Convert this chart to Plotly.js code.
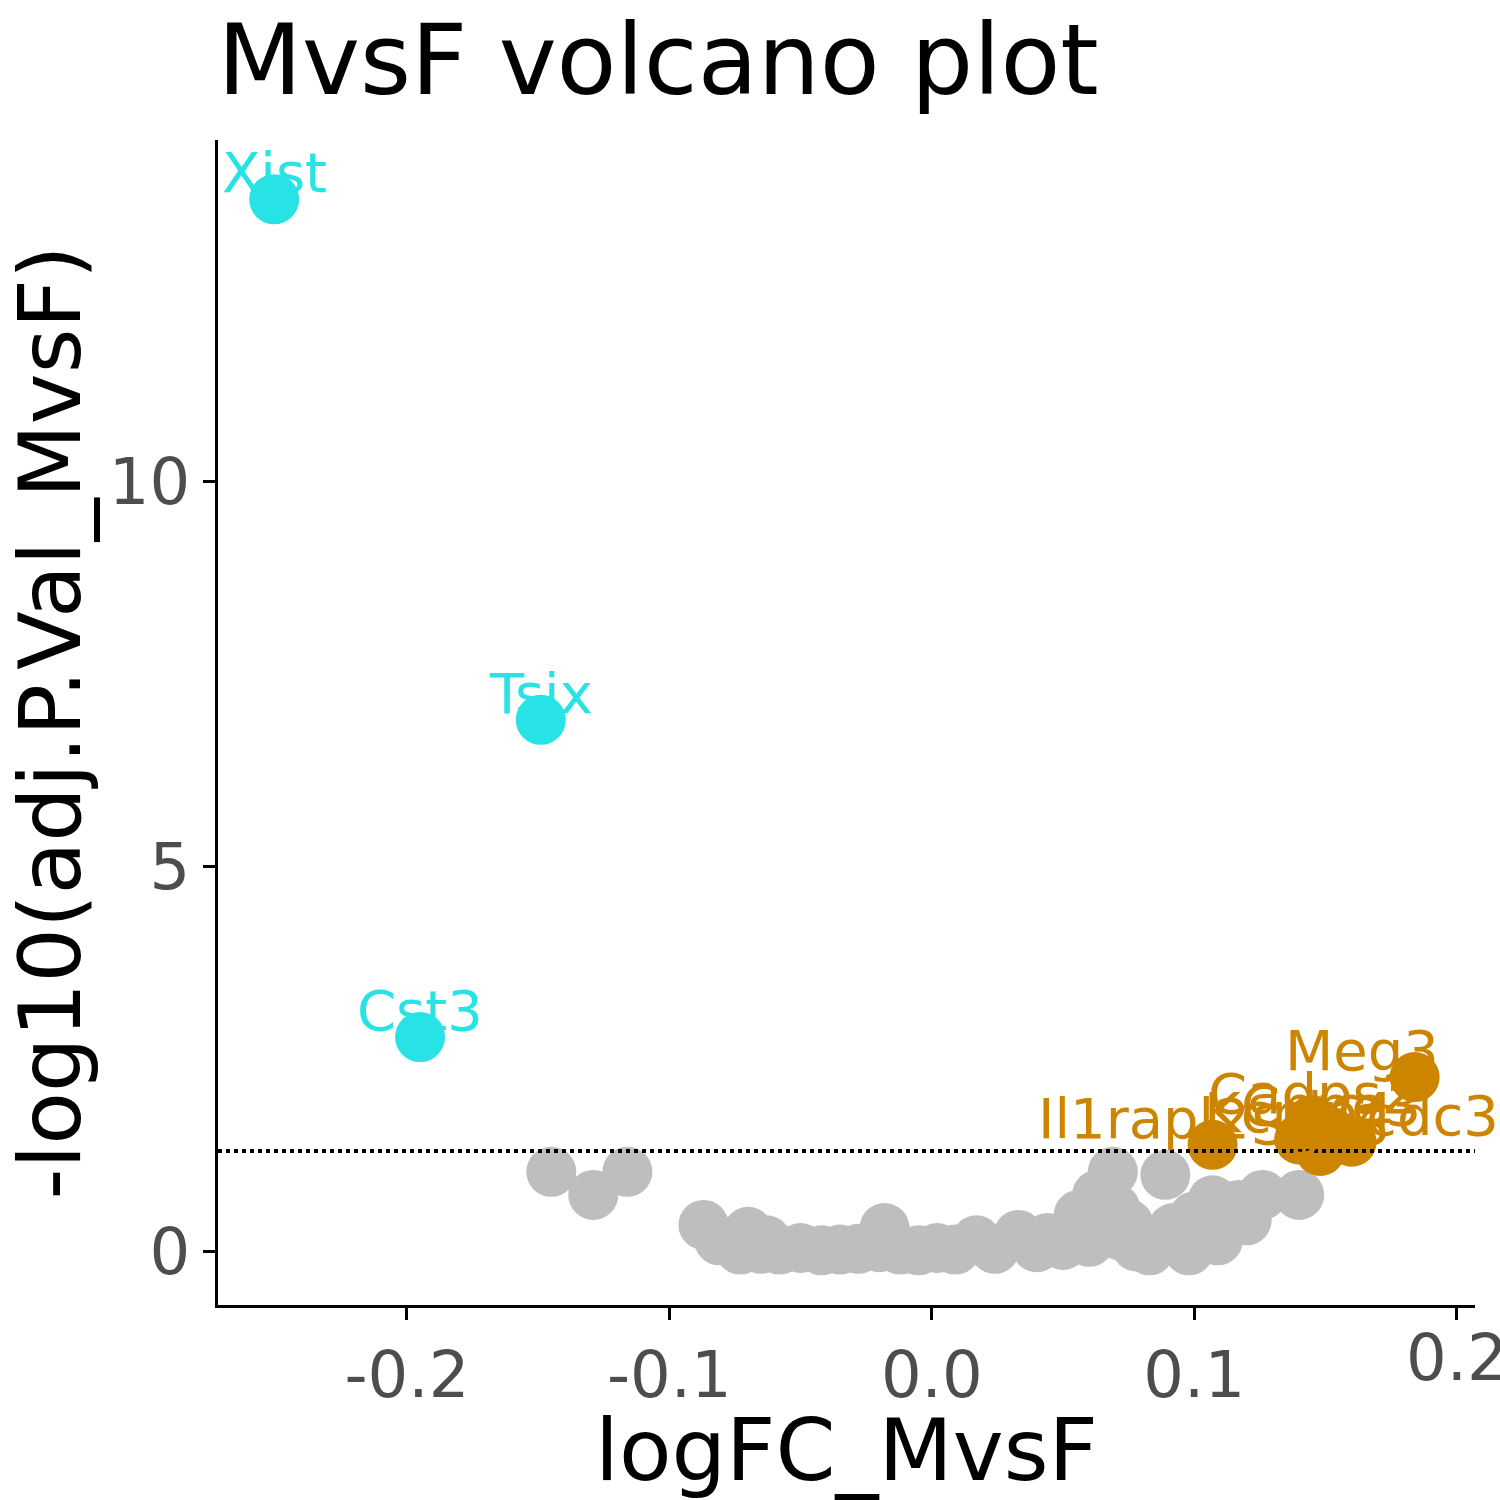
<!DOCTYPE html>
<html>
<head>
<meta charset="utf-8">
<script src="https://cdn.plot.ly/plotly-3.0.1.min.js"></script>
<style>body{margin:0}</style>
</head>
<body>
<div id="plot" style="width:1500px;height:1500px"></div>
<script>
// grey = not significant
var nsX = [-0.145, -0.129, -0.116, -0.087, -0.081, -0.070, -0.063, -0.073, -0.018, 0.017, 0.033, 0.044,
  0.056, 0.063, 0.069, 0.067, 0.089, 0.098, 0.109, 0.107, 0.117, 0.120, 0.126, 0.140, 0.083,
  -0.065, -0.058, -0.050, -0.042, -0.035, -0.028, -0.020, -0.012, -0.005, 0.002, 0.009, 0.024,
  0.040, 0.050, 0.060, 0.072, 0.078, 0.092, 0.100, 0.113, 0.075, 0.070, 0.062];
var nsY = [1.03, 0.73, 1.03, 0.34, 0.14, 0.25, 0.14, 0.02, 0.30, 0.14, 0.21, 0.17,
  0.47, 0.73, 1.03, 0.66, 0.99, 0.01, 0.14, 0.66, 0.60, 0.40, 0.73, 0.73, 0.01,
  0.03, 0.02, 0.04, 0.01, 0.02, 0.03, 0.05, 0.02, 0.01, 0.04, 0.02, 0.03,
  0.05, 0.08, 0.12, 0.20, 0.06, 0.30, 0.45, 0.50, 0.35, 0.55, 0.25];
var downX = [-0.2506, -0.149, -0.195];
var downY = [13.66, 6.9, 2.78];
var downGene = ['Xist', 'Tsix', 'Cst3'];
var upX = [0.184, 0.107, 0.145, 0.140, 0.148, 0.152, 0.160];
var upY = [2.26, 1.38, 1.70, 1.45, 1.30, 1.55, 1.42];
var upGene = ['Meg3', 'Il1rapl2', 'Cadps2', 'Kcnip4', 'Sgk3', 'Cpne3', 'Ccdc3'];
var upAnchor = ['right', 'right', 'center', 'center', 'center', 'center', 'left'];
var upDx = [0.01, 0.015, 0, 0, 0, 0, -0.01];

var font = 'DejaVu Sans, sans-serif';
var cyan = '#27e3e6', orange = '#cd8500';
var data = [
  {x: nsX, y: nsY, mode: 'markers', type: 'scatter', marker: {color: '#bebebe', size: 50}, hoverinfo: 'none'},
  {x: downX, y: downY, mode: 'markers', type: 'scatter', marker: {color: cyan, size: 50}},
  {x: upX, y: upY, mode: 'markers', type: 'scatter', marker: {color: orange, size: 50}}
];
var annotations = [];
downX.forEach(function (x, i) {
  annotations.push({x: x, y: downY[i], text: downGene[i], showarrow: false, xanchor: 'center', yanchor: 'bottom',
    yshift: -8, font: {family: font, size: 56, color: cyan}});
});
upX.forEach(function (x, i) {
  annotations.push({x: x + upDx[i], y: upY[i], text: upGene[i], showarrow: false, xanchor: upAnchor[i], yanchor: 'bottom',
    yshift: -8, font: {family: font, size: 56, color: orange}});
});
annotations.push({x: 0.2, y: 0, xref: 'x', yref: 'paper', text: '0.2', showarrow: false, yanchor: 'top', yshift: -14,
  font: {family: font, size: 64, color: '#4d4d4d'}});

var layout = {
  width: 1500, height: 1500, showlegend: false,
  paper_bgcolor: 'white', plot_bgcolor: 'white',
  margin: {l: 218, r: 25, t: 140, b: 195},
  font: {family: font},
  title: {text: 'MvsF volcano plot', x: 0.145, xanchor: 'left', y: 0.96, yanchor: 'middle',
          font: {family: font, size: 98, color: 'black'}},
  xaxis: {range: [-0.272, 0.207], tickvals: [-0.2, -0.1, 0, 0.1, 0.2], ticktext: ['-0.2', '-0.1', '0.0', '0.1', ''],
          showgrid: false, zeroline: false, showline: true, linecolor: 'black', linewidth: 3,
          ticks: 'outside', ticklen: 12, tickwidth: 3, tickcolor: 'black',
          tickfont: {size: 64, color: '#4d4d4d'},
          title: {text: 'logFC_MvsF', font: {size: 86, color: 'black'}, standoff: 10}},
  yaxis: {range: [-0.7, 14.43], tickvals: [0, 5, 10],
          showgrid: false, zeroline: false, showline: true, linecolor: 'black', linewidth: 3,
          ticks: 'outside', ticklen: 12, tickwidth: 3, tickcolor: 'black',
          tickfont: {size: 64, color: '#4d4d4d'},
          title: {text: '-log10(adj.P.Val_MvsF)', font: {size: 86, color: 'black'}, standoff: 10}},
  annotations: annotations,
  shapes: [{type: 'line', xref: 'paper', x0: 0, x1: 1, y0: 1.3, y1: 1.3,
            line: {color: 'black', width: 4, dash: 'dot'}}]
};
Plotly.newPlot('plot', data, layout, {displayModeBar: false});
</script>
</body>
</html>
